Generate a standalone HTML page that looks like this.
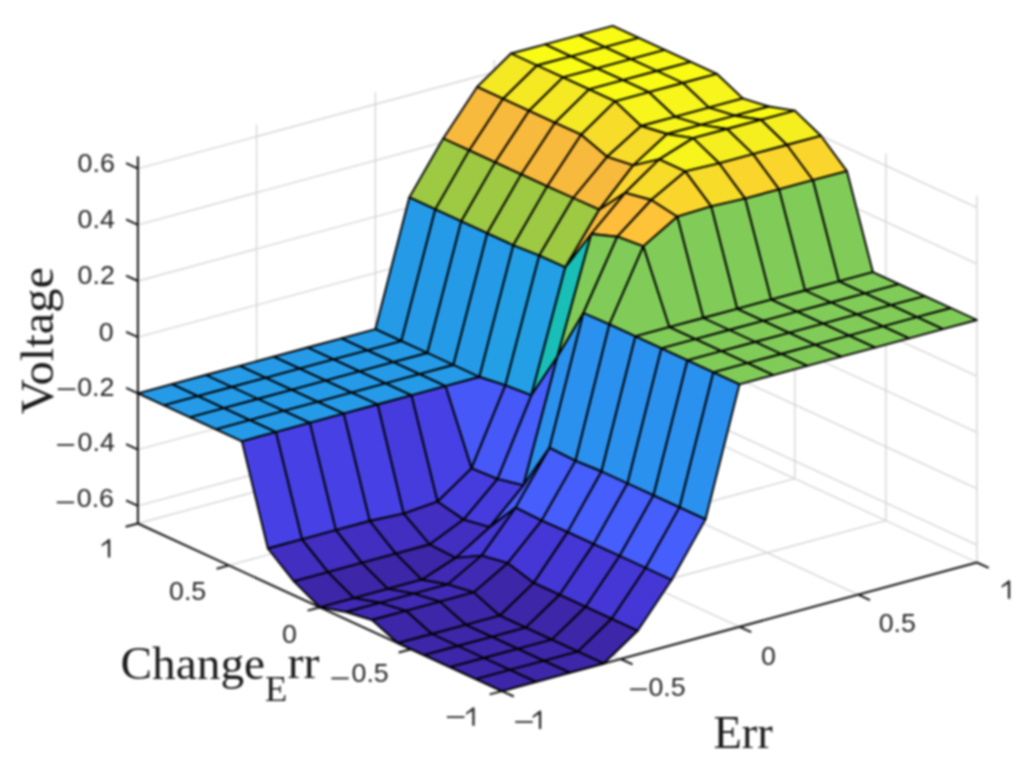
<!DOCTYPE html>
<html><head><meta charset="utf-8"><style>
html,body{margin:0;padding:0;background:#fff;width:1032px;height:768px;overflow:hidden}
.t{position:absolute;font-family:"Liberation Sans",sans-serif;color:#262626;white-space:nowrap;line-height:1}
.s{position:absolute;font-family:"Liberation Serif",serif;color:#262626;white-space:nowrap;line-height:1}
</style></head><body>
<svg width="1032" height="768" viewBox="0 0 1032 768" style="position:absolute;left:0;top:0;filter:blur(0.8px)">
<path d="M137.9 505.8L612.8 377.2M612.8 377.2L976.9 544.8M137.9 449.6L612.8 321.0M612.8 321.0L976.9 488.6M137.9 393.4L612.8 264.8M612.8 264.8L976.9 432.4M137.9 337.2L612.8 208.6M612.8 208.6L976.9 376.2M137.9 281.0L612.8 152.4M612.8 152.4L976.9 320.0M137.9 224.8L612.8 96.2M612.8 96.2L976.9 263.8M137.9 168.6L612.8 40.0M612.8 40.0L976.9 207.6M137.9 523.5L137.9 156.5M502.0 691.1L137.9 523.5M256.6 491.4L256.6 124.4M620.7 659.0L256.6 491.4M375.4 459.2L375.4 92.2M739.5 626.8L375.4 459.2M494.1 427.1L494.1 60.1M858.2 594.7L494.1 427.1M612.8 394.9L612.8 27.9M976.9 562.5L612.8 394.9M976.9 562.5L976.9 195.5M502.0 691.1L976.9 562.5M885.9 520.6L885.9 153.6M411.0 649.2L885.9 520.6M794.8 478.7L794.8 111.7M319.9 607.3L794.8 478.7M703.8 436.8L703.8 69.8M228.9 565.4L703.8 436.8M612.8 394.9L612.8 27.9M137.9 523.5L612.8 394.9" stroke="#d4d4d4" stroke-width="1.3" fill="none"/>
<path d="M502.0 691.1L976.9 562.5M502.0 691.1L137.9 523.5M137.9 523.5L137.9 156.5M502.0 691.1L513.8 696.5M502.0 691.1L489.7 694.4M620.7 659.0L632.6 664.4M411.0 649.2L398.6 652.5M739.5 626.8L751.3 632.2M319.9 607.3L307.6 610.6M858.2 594.7L870.0 600.1M228.9 565.4L216.6 568.7M976.9 562.5L988.7 567.9M137.9 523.5L125.6 526.8M137.9 505.8L126.1 500.3M137.9 449.6L126.1 444.1M137.9 393.4L126.1 387.9M137.9 337.2L126.1 331.8M137.9 281.0L126.1 275.6M137.9 224.8L126.1 219.3M137.9 168.6L126.1 163.2" stroke="#151515" stroke-width="2.0" fill="none"/>
<path d="M604.9 47.1L638.8 37.9L612.8 25.9L578.9 35.1Z" fill="#f9fb15" stroke="#000" stroke-width="1.9" stroke-linejoin="round"/>
<path d="M571.0 56.3L604.9 47.1L578.9 35.1L545.0 44.3Z" fill="#f9fb15" stroke="#000" stroke-width="1.9" stroke-linejoin="round"/>
<path d="M630.9 59.1L664.8 49.9L638.8 37.9L604.9 47.1Z" fill="#f9fb15" stroke="#000" stroke-width="1.9" stroke-linejoin="round"/>
<path d="M537.0 65.5L571.0 56.3L545.0 44.3L511.0 53.5Z" fill="#f9fb15" stroke="#000" stroke-width="1.9" stroke-linejoin="round"/>
<path d="M597.0 68.3L630.9 59.1L604.9 47.1L571.0 56.3Z" fill="#f9fb15" stroke="#000" stroke-width="1.9" stroke-linejoin="round"/>
<path d="M656.9 71.0L690.8 61.9L664.8 49.9L630.9 59.1Z" fill="#f9fb15" stroke="#000" stroke-width="1.9" stroke-linejoin="round"/>
<path d="M503.1 98.8L537.0 65.5L511.0 53.5L477.1 86.9Z" fill="#f5e924" stroke="#000" stroke-width="1.9" stroke-linejoin="round"/>
<path d="M563.0 77.4L597.0 68.3L571.0 56.3L537.0 65.5Z" fill="#f9fb15" stroke="#000" stroke-width="1.9" stroke-linejoin="round"/>
<path d="M623.0 80.2L656.9 71.0L630.9 59.1L597.0 68.3Z" fill="#f9fb15" stroke="#000" stroke-width="1.9" stroke-linejoin="round"/>
<path d="M682.9 83.0L716.8 73.8L690.8 61.9L656.9 71.0Z" fill="#f9fb15" stroke="#000" stroke-width="1.9" stroke-linejoin="round"/>
<path d="M469.2 150.4L503.1 98.8L477.1 86.9L443.2 138.5Z" fill="#f8ba3d" stroke="#000" stroke-width="1.9" stroke-linejoin="round"/>
<path d="M529.1 110.8L563.0 77.4L537.0 65.5L503.1 98.8Z" fill="#f5e924" stroke="#000" stroke-width="1.9" stroke-linejoin="round"/>
<path d="M589.1 89.4L623.0 80.2L597.0 68.3L563.0 77.4Z" fill="#f9fb15" stroke="#000" stroke-width="1.9" stroke-linejoin="round"/>
<path d="M649.0 92.2L682.9 83.0L656.9 71.0L623.0 80.2Z" fill="#f9fb15" stroke="#000" stroke-width="1.9" stroke-linejoin="round"/>
<path d="M435.3 209.4L469.2 150.4L443.2 138.5L409.3 197.4Z" fill="#9dc943" stroke="#000" stroke-width="1.9" stroke-linejoin="round"/>
<path d="M708.9 107.6L742.8 98.4L716.8 73.8L682.9 83.0Z" fill="#f7f51b" stroke="#000" stroke-width="1.9" stroke-linejoin="round"/>
<path d="M495.2 162.4L529.1 110.8L503.1 98.8L469.2 150.4Z" fill="#f8ba3d" stroke="#000" stroke-width="1.9" stroke-linejoin="round"/>
<path d="M555.1 122.8L589.1 89.4L563.0 77.4L529.1 110.8Z" fill="#f5e924" stroke="#000" stroke-width="1.9" stroke-linejoin="round"/>
<path d="M615.1 101.4L649.0 92.2L623.0 80.2L589.1 89.4Z" fill="#f9fb15" stroke="#000" stroke-width="1.9" stroke-linejoin="round"/>
<path d="M401.4 341.1L435.3 209.4L409.3 197.4L375.4 329.1Z" fill="#259be8" stroke="#000" stroke-width="1.9" stroke-linejoin="round"/>
<path d="M675.0 116.8L708.9 107.6L682.9 83.0L649.0 92.2Z" fill="#f7f51b" stroke="#000" stroke-width="1.9" stroke-linejoin="round"/>
<path d="M461.3 221.3L495.2 162.4L469.2 150.4L435.3 209.4Z" fill="#9dc943" stroke="#000" stroke-width="1.9" stroke-linejoin="round"/>
<path d="M734.9 115.7L768.8 106.5L742.8 98.4L708.9 107.6Z" fill="#f7f51b" stroke="#000" stroke-width="1.9" stroke-linejoin="round"/>
<path d="M521.2 174.4L555.1 122.8L529.1 110.8L495.2 162.4Z" fill="#f8ba3d" stroke="#000" stroke-width="1.9" stroke-linejoin="round"/>
<path d="M581.1 134.7L615.1 101.4L589.1 89.4L555.1 122.8Z" fill="#f5e924" stroke="#000" stroke-width="1.9" stroke-linejoin="round"/>
<path d="M367.4 350.3L401.4 341.1L375.4 329.1L341.4 338.3Z" fill="#259be8" stroke="#000" stroke-width="1.9" stroke-linejoin="round"/>
<path d="M641.1 126.0L675.0 116.8L649.0 92.2L615.1 101.4Z" fill="#f7f51b" stroke="#000" stroke-width="1.9" stroke-linejoin="round"/>
<path d="M427.4 353.0L461.3 221.3L435.3 209.4L401.4 341.1Z" fill="#259be8" stroke="#000" stroke-width="1.9" stroke-linejoin="round"/>
<path d="M701.0 124.9L734.9 115.7L708.9 107.6L675.0 116.8Z" fill="#f7f51b" stroke="#000" stroke-width="1.9" stroke-linejoin="round"/>
<path d="M487.3 233.3L521.2 174.4L495.2 162.4L461.3 221.3Z" fill="#9dc943" stroke="#000" stroke-width="1.9" stroke-linejoin="round"/>
<path d="M760.9 119.8L794.8 110.6L768.8 106.5L734.9 115.7Z" fill="#f9fb15" stroke="#000" stroke-width="1.9" stroke-linejoin="round"/>
<path d="M547.2 186.4L581.1 134.7L555.1 122.8L521.2 174.4Z" fill="#f8ba3d" stroke="#000" stroke-width="1.9" stroke-linejoin="round"/>
<path d="M333.5 359.4L367.4 350.3L341.4 338.3L307.5 347.5Z" fill="#259be8" stroke="#000" stroke-width="1.9" stroke-linejoin="round"/>
<path d="M607.1 156.8L641.1 126.0L615.1 101.4L581.1 134.7Z" fill="#f7dc2a" stroke="#000" stroke-width="1.9" stroke-linejoin="round"/>
<path d="M393.4 362.2L427.4 353.0L401.4 341.1L367.4 350.3Z" fill="#259be8" stroke="#000" stroke-width="1.9" stroke-linejoin="round"/>
<path d="M667.1 134.0L701.0 124.9L675.0 116.8L641.1 126.0Z" fill="#f7f51b" stroke="#000" stroke-width="1.9" stroke-linejoin="round"/>
<path d="M453.4 365.0L487.3 233.3L461.3 221.3L427.4 353.0Z" fill="#259be8" stroke="#000" stroke-width="1.9" stroke-linejoin="round"/>
<path d="M727.0 129.0L760.9 119.8L734.9 115.7L701.0 124.9Z" fill="#f9fb15" stroke="#000" stroke-width="1.9" stroke-linejoin="round"/>
<path d="M513.3 245.3L547.2 186.4L521.2 174.4L487.3 233.3Z" fill="#9dc943" stroke="#000" stroke-width="1.9" stroke-linejoin="round"/>
<path d="M299.6 368.6L333.5 359.4L307.5 347.5L273.6 356.7Z" fill="#259be8" stroke="#000" stroke-width="1.9" stroke-linejoin="round"/>
<path d="M786.9 145.0L820.9 135.8L794.8 110.6L760.9 119.8Z" fill="#f6ef20" stroke="#000" stroke-width="1.9" stroke-linejoin="round"/>
<path d="M573.2 198.0L607.1 156.8L581.1 134.7L547.2 186.4Z" fill="#f8ba3d" stroke="#000" stroke-width="1.9" stroke-linejoin="round"/>
<path d="M359.5 371.4L393.4 362.2L367.4 350.3L333.5 359.4Z" fill="#259be8" stroke="#000" stroke-width="1.9" stroke-linejoin="round"/>
<path d="M633.2 165.4L667.1 134.0L641.1 126.0L607.1 156.8Z" fill="#f7dc2a" stroke="#000" stroke-width="1.9" stroke-linejoin="round"/>
<path d="M419.5 374.2L453.4 365.0L427.4 353.0L393.4 362.2Z" fill="#259be8" stroke="#000" stroke-width="1.9" stroke-linejoin="round"/>
<path d="M693.1 138.1L727.0 129.0L701.0 124.9L667.1 134.0Z" fill="#f9fb15" stroke="#000" stroke-width="1.9" stroke-linejoin="round"/>
<path d="M479.4 377.0L513.3 245.3L487.3 233.3L453.4 365.0Z" fill="#259be8" stroke="#000" stroke-width="1.9" stroke-linejoin="round"/>
<path d="M265.7 377.8L299.6 368.6L273.6 356.7L239.7 365.8Z" fill="#259be8" stroke="#000" stroke-width="1.9" stroke-linejoin="round"/>
<path d="M753.0 154.1L786.9 145.0L760.9 119.8L727.0 129.0Z" fill="#f6ef20" stroke="#000" stroke-width="1.9" stroke-linejoin="round"/>
<path d="M539.3 255.6L573.2 198.0L547.2 186.4L513.3 245.3Z" fill="#9dc943" stroke="#000" stroke-width="1.9" stroke-linejoin="round"/>
<path d="M325.6 380.6L359.5 371.4L333.5 359.4L299.6 368.6Z" fill="#259be8" stroke="#000" stroke-width="1.9" stroke-linejoin="round"/>
<path d="M812.9 180.2L846.9 171.1L820.9 135.8L786.9 145.0Z" fill="#fad62d" stroke="#000" stroke-width="1.9" stroke-linejoin="round"/>
<path d="M599.2 209.7L633.2 165.4L607.1 156.8L573.2 198.0Z" fill="#f8ba3d" stroke="#000" stroke-width="1.9" stroke-linejoin="round"/>
<path d="M385.5 383.4L419.5 374.2L393.4 362.2L359.5 371.4Z" fill="#259be8" stroke="#000" stroke-width="1.9" stroke-linejoin="round"/>
<path d="M659.2 159.4L693.1 138.1L667.1 134.0L633.2 165.4Z" fill="#f7f51b" stroke="#000" stroke-width="1.9" stroke-linejoin="round"/>
<path d="M445.5 386.2L479.4 377.0L453.4 365.0L419.5 374.2Z" fill="#259be8" stroke="#000" stroke-width="1.9" stroke-linejoin="round"/>
<path d="M231.8 387.0L265.7 377.8L239.7 365.8L205.7 375.0Z" fill="#259be8" stroke="#000" stroke-width="1.9" stroke-linejoin="round"/>
<path d="M719.1 163.3L753.0 154.1L727.0 129.0L693.1 138.1Z" fill="#f6ef20" stroke="#000" stroke-width="1.9" stroke-linejoin="round"/>
<path d="M505.4 385.3L539.3 255.6L513.3 245.3L479.4 377.0Z" fill="#23a0e5" stroke="#000" stroke-width="1.9" stroke-linejoin="round"/>
<path d="M291.7 389.8L325.6 380.6L299.6 368.6L265.7 377.8Z" fill="#259be8" stroke="#000" stroke-width="1.9" stroke-linejoin="round"/>
<path d="M779.0 189.4L812.9 180.2L786.9 145.0L753.0 154.1Z" fill="#fad62d" stroke="#000" stroke-width="1.9" stroke-linejoin="round"/>
<path d="M565.3 267.3L599.2 209.7L573.2 198.0L539.3 255.6Z" fill="#9dc943" stroke="#000" stroke-width="1.9" stroke-linejoin="round"/>
<path d="M351.6 392.6L385.5 383.4L359.5 371.4L325.6 380.6Z" fill="#259be8" stroke="#000" stroke-width="1.9" stroke-linejoin="round"/>
<path d="M838.9 281.3L872.9 272.1L846.9 171.1L812.9 180.2Z" fill="#81cc59" stroke="#000" stroke-width="1.9" stroke-linejoin="round"/>
<path d="M625.2 192.8L659.2 159.4L633.2 165.4L599.2 209.7Z" fill="#fad62d" stroke="#000" stroke-width="1.9" stroke-linejoin="round"/>
<path d="M411.5 395.4L445.5 386.2L419.5 374.2L385.5 383.4Z" fill="#259be8" stroke="#000" stroke-width="1.9" stroke-linejoin="round"/>
<path d="M197.8 396.2L231.8 387.0L205.7 375.0L171.8 384.2Z" fill="#259be8" stroke="#000" stroke-width="1.9" stroke-linejoin="round"/>
<path d="M685.2 171.4L719.1 163.3L693.1 138.1L659.2 159.4Z" fill="#f7f51b" stroke="#000" stroke-width="1.9" stroke-linejoin="round"/>
<path d="M471.5 468.4L505.4 385.3L479.4 377.0L445.5 386.2Z" fill="#4758f8" stroke="#000" stroke-width="1.9" stroke-linejoin="round"/>
<path d="M257.8 399.0L291.7 389.8L265.7 377.8L231.8 387.0Z" fill="#259be8" stroke="#000" stroke-width="1.9" stroke-linejoin="round"/>
<path d="M745.1 198.6L779.0 189.4L753.0 154.1L719.1 163.3Z" fill="#fad62d" stroke="#000" stroke-width="1.9" stroke-linejoin="round"/>
<path d="M531.4 395.3L565.3 267.3L539.3 255.6L505.4 385.3Z" fill="#23a0e5" stroke="#000" stroke-width="1.9" stroke-linejoin="round"/>
<path d="M317.7 401.8L351.6 392.6L325.6 380.6L291.7 389.8Z" fill="#259be8" stroke="#000" stroke-width="1.9" stroke-linejoin="round"/>
<path d="M805.0 290.5L838.9 281.3L812.9 180.2L779.0 189.4Z" fill="#81cc59" stroke="#000" stroke-width="1.9" stroke-linejoin="round"/>
<path d="M591.3 234.0L625.2 192.8L599.2 209.7L565.3 267.3Z" fill="#f8ba3d" stroke="#000" stroke-width="1.9" stroke-linejoin="round"/>
<path d="M377.6 404.5L411.5 395.4L385.5 383.4L351.6 392.6Z" fill="#259be8" stroke="#000" stroke-width="1.9" stroke-linejoin="round"/>
<path d="M163.9 405.4L197.8 396.2L171.8 384.2L137.9 393.4Z" fill="#259be8" stroke="#000" stroke-width="1.9" stroke-linejoin="round"/>
<path d="M865.0 293.3L898.9 284.1L872.9 272.1L838.9 281.3Z" fill="#81cc59" stroke="#000" stroke-width="1.9" stroke-linejoin="round"/>
<path d="M651.2 200.0L685.2 171.4L659.2 159.4L625.2 192.8Z" fill="#f7dc2a" stroke="#000" stroke-width="1.9" stroke-linejoin="round"/>
<path d="M437.5 501.7L471.5 468.4L445.5 386.2L411.5 395.4Z" fill="#4741e5" stroke="#000" stroke-width="1.9" stroke-linejoin="round"/>
<path d="M223.8 408.2L257.8 399.0L231.8 387.0L197.8 396.2Z" fill="#259be8" stroke="#000" stroke-width="1.9" stroke-linejoin="round"/>
<path d="M711.2 206.4L745.1 198.6L719.1 163.3L685.2 171.4Z" fill="#f7dc2a" stroke="#000" stroke-width="1.9" stroke-linejoin="round"/>
<path d="M497.5 479.2L531.4 395.3L505.4 385.3L471.5 468.4Z" fill="#4758f8" stroke="#000" stroke-width="1.9" stroke-linejoin="round"/>
<path d="M283.8 410.9L317.7 401.8L291.7 389.8L257.8 399.0Z" fill="#259be8" stroke="#000" stroke-width="1.9" stroke-linejoin="round"/>
<path d="M771.1 299.7L805.0 290.5L779.0 189.4L745.1 198.6Z" fill="#81cc59" stroke="#000" stroke-width="1.9" stroke-linejoin="round"/>
<path d="M557.4 356.7L591.3 234.0L565.3 267.3L531.4 395.3Z" fill="#19bfb6" stroke="#000" stroke-width="1.9" stroke-linejoin="round"/>
<path d="M343.7 413.7L377.6 404.5L351.6 392.6L317.7 401.8Z" fill="#259be8" stroke="#000" stroke-width="1.9" stroke-linejoin="round"/>
<path d="M831.0 302.5L865.0 293.3L838.9 281.3L805.0 290.5Z" fill="#81cc59" stroke="#000" stroke-width="1.9" stroke-linejoin="round"/>
<path d="M617.3 236.7L651.2 200.0L625.2 192.8L591.3 234.0Z" fill="#febe3c" stroke="#000" stroke-width="1.9" stroke-linejoin="round"/>
<path d="M403.6 513.6L437.5 501.7L411.5 395.4L377.6 404.5Z" fill="#463cde" stroke="#000" stroke-width="1.9" stroke-linejoin="round"/>
<path d="M189.9 417.3L223.8 408.2L197.8 396.2L163.9 405.4Z" fill="#259be8" stroke="#000" stroke-width="1.9" stroke-linejoin="round"/>
<path d="M891.0 305.2L924.9 296.1L898.9 284.1L865.0 293.3Z" fill="#81cc59" stroke="#000" stroke-width="1.9" stroke-linejoin="round"/>
<path d="M677.3 216.7L711.2 206.4L685.2 171.4L651.2 200.0Z" fill="#fad62d" stroke="#000" stroke-width="1.9" stroke-linejoin="round"/>
<path d="M463.6 519.6L497.5 479.2L471.5 468.4L437.5 501.7Z" fill="#463cde" stroke="#000" stroke-width="1.9" stroke-linejoin="round"/>
<path d="M249.8 420.1L283.8 410.9L257.8 399.0L223.8 408.2Z" fill="#259be8" stroke="#000" stroke-width="1.9" stroke-linejoin="round"/>
<path d="M737.2 308.9L771.1 299.7L745.1 198.6L711.2 206.4Z" fill="#81cc59" stroke="#000" stroke-width="1.9" stroke-linejoin="round"/>
<path d="M523.5 485.3L557.4 356.7L531.4 395.3L497.5 479.2Z" fill="#465efb" stroke="#000" stroke-width="1.9" stroke-linejoin="round"/>
<path d="M309.8 422.9L343.7 413.7L317.7 401.8L283.8 410.9Z" fill="#259be8" stroke="#000" stroke-width="1.9" stroke-linejoin="round"/>
<path d="M797.1 311.6L831.0 302.5L805.0 290.5L771.1 299.7Z" fill="#81cc59" stroke="#000" stroke-width="1.9" stroke-linejoin="round"/>
<path d="M583.4 313.0L617.3 236.7L591.3 234.0L557.4 356.7Z" fill="#81cc59" stroke="#000" stroke-width="1.9" stroke-linejoin="round"/>
<path d="M369.7 521.0L403.6 513.6L377.6 404.5L343.7 413.7Z" fill="#4741e5" stroke="#000" stroke-width="1.9" stroke-linejoin="round"/>
<path d="M857.0 314.4L891.0 305.2L865.0 293.3L831.0 302.5Z" fill="#81cc59" stroke="#000" stroke-width="1.9" stroke-linejoin="round"/>
<path d="M643.3 246.4L677.3 216.7L651.2 200.0L617.3 236.7Z" fill="#fec338" stroke="#000" stroke-width="1.9" stroke-linejoin="round"/>
<path d="M429.6 544.5L463.6 519.6L437.5 501.7L403.6 513.6Z" fill="#422ec0" stroke="#000" stroke-width="1.9" stroke-linejoin="round"/>
<path d="M215.9 429.3L249.8 420.1L223.8 408.2L189.9 417.3Z" fill="#259be8" stroke="#000" stroke-width="1.9" stroke-linejoin="round"/>
<path d="M917.0 317.2L950.9 308.0L924.9 296.1L891.0 305.2Z" fill="#81cc59" stroke="#000" stroke-width="1.9" stroke-linejoin="round"/>
<path d="M703.3 318.0L737.2 308.9L711.2 206.4L677.3 216.7Z" fill="#81cc59" stroke="#000" stroke-width="1.9" stroke-linejoin="round"/>
<path d="M489.6 527.2L523.5 485.3L497.5 479.2L463.6 519.6Z" fill="#463cde" stroke="#000" stroke-width="1.9" stroke-linejoin="round"/>
<path d="M275.9 432.1L309.8 422.9L283.8 410.9L249.8 420.1Z" fill="#259be8" stroke="#000" stroke-width="1.9" stroke-linejoin="round"/>
<path d="M763.2 320.8L797.1 311.6L771.1 299.7L737.2 308.9Z" fill="#81cc59" stroke="#000" stroke-width="1.9" stroke-linejoin="round"/>
<path d="M549.5 447.8L583.4 313.0L557.4 356.7L523.5 485.3Z" fill="#2b91ef" stroke="#000" stroke-width="1.9" stroke-linejoin="round"/>
<path d="M335.8 530.1L369.7 521.0L343.7 413.7L309.8 422.9Z" fill="#4741e5" stroke="#000" stroke-width="1.9" stroke-linejoin="round"/>
<path d="M823.1 323.6L857.0 314.4L831.0 302.5L797.1 311.6Z" fill="#81cc59" stroke="#000" stroke-width="1.9" stroke-linejoin="round"/>
<path d="M609.4 324.4L643.3 246.4L617.3 236.7L583.4 313.0Z" fill="#81cc59" stroke="#000" stroke-width="1.9" stroke-linejoin="round"/>
<path d="M395.7 553.7L429.6 544.5L403.6 513.6L369.7 521.0Z" fill="#422ec0" stroke="#000" stroke-width="1.9" stroke-linejoin="round"/>
<path d="M883.0 326.4L917.0 317.2L891.0 305.2L857.0 314.4Z" fill="#81cc59" stroke="#000" stroke-width="1.9" stroke-linejoin="round"/>
<path d="M669.3 327.2L703.3 318.0L677.3 216.7L643.3 246.4Z" fill="#81cc59" stroke="#000" stroke-width="1.9" stroke-linejoin="round"/>
<path d="M455.6 557.9L489.6 527.2L463.6 519.6L429.6 544.5Z" fill="#422ec0" stroke="#000" stroke-width="1.9" stroke-linejoin="round"/>
<path d="M241.9 441.3L275.9 432.1L249.8 420.1L215.9 429.3Z" fill="#259be8" stroke="#000" stroke-width="1.9" stroke-linejoin="round"/>
<path d="M943.0 329.2L976.9 320.0L950.9 308.0L917.0 317.2Z" fill="#81cc59" stroke="#000" stroke-width="1.9" stroke-linejoin="round"/>
<path d="M729.3 330.0L763.2 320.8L737.2 308.9L703.3 318.0Z" fill="#81cc59" stroke="#000" stroke-width="1.9" stroke-linejoin="round"/>
<path d="M515.6 507.6L549.5 447.8L523.5 485.3L489.6 527.2Z" fill="#465efb" stroke="#000" stroke-width="1.9" stroke-linejoin="round"/>
<path d="M301.9 539.3L335.8 530.1L309.8 422.9L275.9 432.1Z" fill="#4741e5" stroke="#000" stroke-width="1.9" stroke-linejoin="round"/>
<path d="M789.2 332.8L823.1 323.6L797.1 311.6L763.2 320.8Z" fill="#81cc59" stroke="#000" stroke-width="1.9" stroke-linejoin="round"/>
<path d="M575.5 460.9L609.4 324.4L583.4 313.0L549.5 447.8Z" fill="#2b91ef" stroke="#000" stroke-width="1.9" stroke-linejoin="round"/>
<path d="M361.8 562.9L395.7 553.7L369.7 521.0L335.8 530.1Z" fill="#422ec0" stroke="#000" stroke-width="1.9" stroke-linejoin="round"/>
<path d="M849.1 335.6L883.0 326.4L857.0 314.4L823.1 323.6Z" fill="#81cc59" stroke="#000" stroke-width="1.9" stroke-linejoin="round"/>
<path d="M635.4 336.4L669.3 327.2L643.3 246.4L609.4 324.4Z" fill="#81cc59" stroke="#000" stroke-width="1.9" stroke-linejoin="round"/>
<path d="M421.7 579.7L455.6 557.9L429.6 544.5L395.7 553.7Z" fill="#3e26a8" stroke="#000" stroke-width="1.9" stroke-linejoin="round"/>
<path d="M909.1 338.4L943.0 329.2L917.0 317.2L883.0 326.4Z" fill="#81cc59" stroke="#000" stroke-width="1.9" stroke-linejoin="round"/>
<path d="M695.4 339.2L729.3 330.0L703.3 318.0L669.3 327.2Z" fill="#81cc59" stroke="#000" stroke-width="1.9" stroke-linejoin="round"/>
<path d="M481.6 555.6L515.6 507.6L489.6 527.2L455.6 557.9Z" fill="#4537d5" stroke="#000" stroke-width="1.9" stroke-linejoin="round"/>
<path d="M267.9 548.5L301.9 539.3L275.9 432.1L241.9 441.3Z" fill="#4741e5" stroke="#000" stroke-width="1.9" stroke-linejoin="round"/>
<path d="M755.3 342.0L789.2 332.8L763.2 320.8L729.3 330.0Z" fill="#81cc59" stroke="#000" stroke-width="1.9" stroke-linejoin="round"/>
<path d="M541.6 520.6L575.5 460.9L549.5 447.8L515.6 507.6Z" fill="#465efb" stroke="#000" stroke-width="1.9" stroke-linejoin="round"/>
<path d="M327.9 572.1L361.8 562.9L335.8 530.1L301.9 539.3Z" fill="#422ec0" stroke="#000" stroke-width="1.9" stroke-linejoin="round"/>
<path d="M815.2 344.8L849.1 335.6L823.1 323.6L789.2 332.8Z" fill="#81cc59" stroke="#000" stroke-width="1.9" stroke-linejoin="round"/>
<path d="M601.5 471.5L635.4 336.4L609.4 324.4L575.5 460.9Z" fill="#2b91ef" stroke="#000" stroke-width="1.9" stroke-linejoin="round"/>
<path d="M387.8 588.9L421.7 579.7L395.7 553.7L361.8 562.9Z" fill="#3e26a8" stroke="#000" stroke-width="1.9" stroke-linejoin="round"/>
<path d="M875.1 347.6L909.1 338.4L883.0 326.4L849.1 335.6Z" fill="#81cc59" stroke="#000" stroke-width="1.9" stroke-linejoin="round"/>
<path d="M661.4 348.4L695.4 339.2L669.3 327.2L635.4 336.4Z" fill="#81cc59" stroke="#000" stroke-width="1.9" stroke-linejoin="round"/>
<path d="M447.7 584.4L481.6 555.6L455.6 557.9L421.7 579.7Z" fill="#402ab4" stroke="#000" stroke-width="1.9" stroke-linejoin="round"/>
<path d="M721.4 351.2L755.3 342.0L729.3 330.0L695.4 339.2Z" fill="#81cc59" stroke="#000" stroke-width="1.9" stroke-linejoin="round"/>
<path d="M507.7 563.2L541.6 520.6L515.6 507.6L481.6 555.6Z" fill="#463cde" stroke="#000" stroke-width="1.9" stroke-linejoin="round"/>
<path d="M293.9 581.3L327.9 572.1L301.9 539.3L267.9 548.5Z" fill="#422ec0" stroke="#000" stroke-width="1.9" stroke-linejoin="round"/>
<path d="M781.3 354.0L815.2 344.8L789.2 332.8L755.3 342.0Z" fill="#81cc59" stroke="#000" stroke-width="1.9" stroke-linejoin="round"/>
<path d="M567.6 532.1L601.5 471.5L575.5 460.9L541.6 520.6Z" fill="#465efb" stroke="#000" stroke-width="1.9" stroke-linejoin="round"/>
<path d="M353.9 598.1L387.8 588.9L361.8 562.9L327.9 572.1Z" fill="#3e26a8" stroke="#000" stroke-width="1.9" stroke-linejoin="round"/>
<path d="M841.2 356.7L875.1 347.6L849.1 335.6L815.2 344.8Z" fill="#81cc59" stroke="#000" stroke-width="1.9" stroke-linejoin="round"/>
<path d="M627.5 483.5L661.4 348.4L635.4 336.4L601.5 471.5Z" fill="#2b91ef" stroke="#000" stroke-width="1.9" stroke-linejoin="round"/>
<path d="M413.8 593.6L447.7 584.4L421.7 579.7L387.8 588.9Z" fill="#402ab4" stroke="#000" stroke-width="1.9" stroke-linejoin="round"/>
<path d="M687.4 360.4L721.4 351.2L695.4 339.2L661.4 348.4Z" fill="#81cc59" stroke="#000" stroke-width="1.9" stroke-linejoin="round"/>
<path d="M473.7 592.4L507.7 563.2L481.6 555.6L447.7 584.4Z" fill="#402ab4" stroke="#000" stroke-width="1.9" stroke-linejoin="round"/>
<path d="M747.4 363.1L781.3 354.0L755.3 342.0L721.4 351.2Z" fill="#81cc59" stroke="#000" stroke-width="1.9" stroke-linejoin="round"/>
<path d="M533.7 582.9L567.6 532.1L541.6 520.6L507.7 563.2Z" fill="#4537d5" stroke="#000" stroke-width="1.9" stroke-linejoin="round"/>
<path d="M319.9 607.3L353.9 598.1L327.9 572.1L293.9 581.3Z" fill="#3e26a8" stroke="#000" stroke-width="1.9" stroke-linejoin="round"/>
<path d="M807.3 365.9L841.2 356.7L815.2 344.8L781.3 354.0Z" fill="#81cc59" stroke="#000" stroke-width="1.9" stroke-linejoin="round"/>
<path d="M593.6 544.1L627.5 483.5L601.5 471.5L567.6 532.1Z" fill="#465efb" stroke="#000" stroke-width="1.9" stroke-linejoin="round"/>
<path d="M379.9 602.8L413.8 593.6L387.8 588.9L353.9 598.1Z" fill="#402ab4" stroke="#000" stroke-width="1.9" stroke-linejoin="round"/>
<path d="M653.5 495.4L687.4 360.4L661.4 348.4L627.5 483.5Z" fill="#2b91ef" stroke="#000" stroke-width="1.9" stroke-linejoin="round"/>
<path d="M439.8 601.6L473.7 592.4L447.7 584.4L413.8 593.6Z" fill="#402ab4" stroke="#000" stroke-width="1.9" stroke-linejoin="round"/>
<path d="M713.4 372.3L747.4 363.1L721.4 351.2L687.4 360.4Z" fill="#81cc59" stroke="#000" stroke-width="1.9" stroke-linejoin="round"/>
<path d="M499.7 615.7L533.7 582.9L507.7 563.2L473.7 592.4Z" fill="#3e26a8" stroke="#000" stroke-width="1.9" stroke-linejoin="round"/>
<path d="M773.4 375.1L807.3 365.9L781.3 354.0L747.4 363.1Z" fill="#81cc59" stroke="#000" stroke-width="1.9" stroke-linejoin="round"/>
<path d="M559.7 594.8L593.6 544.1L567.6 532.1L533.7 582.9Z" fill="#4537d5" stroke="#000" stroke-width="1.9" stroke-linejoin="round"/>
<path d="M346.0 612.0L379.9 602.8L353.9 598.1L319.9 607.3Z" fill="#402ab4" stroke="#000" stroke-width="1.9" stroke-linejoin="round"/>
<path d="M619.6 556.0L653.5 495.4L627.5 483.5L593.6 544.1Z" fill="#465efb" stroke="#000" stroke-width="1.9" stroke-linejoin="round"/>
<path d="M405.9 610.8L439.8 601.6L413.8 593.6L379.9 602.8Z" fill="#402ab4" stroke="#000" stroke-width="1.9" stroke-linejoin="round"/>
<path d="M679.5 507.4L713.4 372.3L687.4 360.4L653.5 495.4Z" fill="#2b91ef" stroke="#000" stroke-width="1.9" stroke-linejoin="round"/>
<path d="M465.8 624.8L499.7 615.7L473.7 592.4L439.8 601.6Z" fill="#3e26a8" stroke="#000" stroke-width="1.9" stroke-linejoin="round"/>
<path d="M739.5 384.3L773.4 375.1L747.4 363.1L713.4 372.3Z" fill="#81cc59" stroke="#000" stroke-width="1.9" stroke-linejoin="round"/>
<path d="M525.7 627.6L559.7 594.8L533.7 582.9L499.7 615.7Z" fill="#3e26a8" stroke="#000" stroke-width="1.9" stroke-linejoin="round"/>
<path d="M585.7 606.8L619.6 556.0L593.6 544.1L559.7 594.8Z" fill="#4537d5" stroke="#000" stroke-width="1.9" stroke-linejoin="round"/>
<path d="M372.0 620.0L405.9 610.8L379.9 602.8L346.0 612.0Z" fill="#402ab4" stroke="#000" stroke-width="1.9" stroke-linejoin="round"/>
<path d="M645.6 568.0L679.5 507.4L653.5 495.4L619.6 556.0Z" fill="#465efb" stroke="#000" stroke-width="1.9" stroke-linejoin="round"/>
<path d="M431.9 634.0L465.8 624.8L439.8 601.6L405.9 610.8Z" fill="#3e26a8" stroke="#000" stroke-width="1.9" stroke-linejoin="round"/>
<path d="M705.5 519.4L739.5 384.3L713.4 372.3L679.5 507.4Z" fill="#2b91ef" stroke="#000" stroke-width="1.9" stroke-linejoin="round"/>
<path d="M491.8 636.8L525.7 627.6L499.7 615.7L465.8 624.8Z" fill="#3e26a8" stroke="#000" stroke-width="1.9" stroke-linejoin="round"/>
<path d="M551.8 639.6L585.7 606.8L559.7 594.8L525.7 627.6Z" fill="#3e26a8" stroke="#000" stroke-width="1.9" stroke-linejoin="round"/>
<path d="M611.7 618.8L645.6 568.0L619.6 556.0L585.7 606.8Z" fill="#4537d5" stroke="#000" stroke-width="1.9" stroke-linejoin="round"/>
<path d="M398.0 643.2L431.9 634.0L405.9 610.8L372.0 620.0Z" fill="#3e26a8" stroke="#000" stroke-width="1.9" stroke-linejoin="round"/>
<path d="M671.6 580.0L705.5 519.4L679.5 507.4L645.6 568.0Z" fill="#465efb" stroke="#000" stroke-width="1.9" stroke-linejoin="round"/>
<path d="M457.9 646.0L491.8 636.8L465.8 624.8L431.9 634.0Z" fill="#3e26a8" stroke="#000" stroke-width="1.9" stroke-linejoin="round"/>
<path d="M517.8 648.8L551.8 639.6L525.7 627.6L491.8 636.8Z" fill="#3e26a8" stroke="#000" stroke-width="1.9" stroke-linejoin="round"/>
<path d="M577.8 651.6L611.7 618.8L585.7 606.8L551.8 639.6Z" fill="#3e26a8" stroke="#000" stroke-width="1.9" stroke-linejoin="round"/>
<path d="M637.7 630.8L671.6 580.0L645.6 568.0L611.7 618.8Z" fill="#4537d5" stroke="#000" stroke-width="1.9" stroke-linejoin="round"/>
<path d="M424.0 655.2L457.9 646.0L431.9 634.0L398.0 643.2Z" fill="#3e26a8" stroke="#000" stroke-width="1.9" stroke-linejoin="round"/>
<path d="M483.9 658.0L517.8 648.8L491.8 636.8L457.9 646.0Z" fill="#3e26a8" stroke="#000" stroke-width="1.9" stroke-linejoin="round"/>
<path d="M543.8 660.8L577.8 651.6L551.8 639.6L517.8 648.8Z" fill="#3e26a8" stroke="#000" stroke-width="1.9" stroke-linejoin="round"/>
<path d="M603.8 663.5L637.7 630.8L611.7 618.8L577.8 651.6Z" fill="#3e26a8" stroke="#000" stroke-width="1.9" stroke-linejoin="round"/>
<path d="M450.0 667.2L483.9 658.0L457.9 646.0L424.0 655.2Z" fill="#3e26a8" stroke="#000" stroke-width="1.9" stroke-linejoin="round"/>
<path d="M509.9 669.9L543.8 660.8L517.8 648.8L483.9 658.0Z" fill="#3e26a8" stroke="#000" stroke-width="1.9" stroke-linejoin="round"/>
<path d="M569.8 672.7L603.8 663.5L577.8 651.6L543.8 660.8Z" fill="#3e26a8" stroke="#000" stroke-width="1.9" stroke-linejoin="round"/>
<path d="M476.0 679.1L509.9 669.9L483.9 658.0L450.0 667.2Z" fill="#3e26a8" stroke="#000" stroke-width="1.9" stroke-linejoin="round"/>
<path d="M535.9 681.9L569.8 672.7L543.8 660.8L509.9 669.9Z" fill="#3e26a8" stroke="#000" stroke-width="1.9" stroke-linejoin="round"/>
<path d="M502.0 691.1L535.9 681.9L509.9 669.9L476.0 679.1Z" fill="#3e26a8" stroke="#000" stroke-width="1.9" stroke-linejoin="round"/>
<text transform="translate(77.6,171.9) scale(1.03,1)" font-family="Liberation Sans" font-size="26" fill="#262626">0.6</text>
<text transform="translate(77.6,228.2) scale(1.03,1)" font-family="Liberation Sans" font-size="26" fill="#262626">0.4</text>
<text transform="translate(77.6,284.2) scale(1.03,1)" font-family="Liberation Sans" font-size="26" fill="#262626">0.2</text>
<text transform="translate(98.8,340.6) scale(1.03,1)" font-family="Liberation Sans" font-size="26" fill="#262626">0</text>
<text transform="translate(77.2,396.0) scale(1.03,1)" font-family="Liberation Sans" font-size="26" fill="#262626">0.2</text>
<rect x="57.8" y="388.3" width="17.6" height="1.8" fill="#262626"/>
<text transform="translate(77.6,451.2) scale(1.03,1)" font-family="Liberation Sans" font-size="26" fill="#262626">0.4</text>
<rect x="57.2" y="444.0" width="16.9" height="1.8" fill="#262626"/>
<text transform="translate(76.8,506.8) scale(1.03,1)" font-family="Liberation Sans" font-size="26" fill="#262626">0.6</text>
<rect x="56.8" y="501.5" width="17.3" height="1.8" fill="#262626"/>
<path d="M107.9 539.2h2.3v18.3h-2.3z" fill="#262626"/><path d="M108.5 539.2L101.7 544.4L101.7 546.4L108.5 542.2z" fill="#262626"/>
<text transform="translate(169.0,599.8) scale(1.03,1)" font-family="Liberation Sans" font-size="26" fill="#262626">0.5</text>
<text transform="translate(282.0,642.5) scale(1.03,1)" font-family="Liberation Sans" font-size="26" fill="#262626">0</text>
<text transform="translate(351.5,681.8) scale(1.03,1)" font-family="Liberation Sans" font-size="26" fill="#262626">0.5</text>
<rect x="331.4" y="677.5" width="17.3" height="1.8" fill="#262626"/>
<path d="M472.3 707.5h2.3v18.3h-2.3z" fill="#262626"/><path d="M472.9 707.5L466.1 712.7L466.1 714.7L472.9 710.5z" fill="#262626"/>
<rect x="446.9" y="716.2" width="17.6" height="1.8" fill="#262626"/>
<path d="M538.9 710.7h2.3v18.3h-2.3z" fill="#262626"/><path d="M539.5 710.7L532.7 715.9L532.7 717.9L539.5 713.7z" fill="#262626"/>
<rect x="515.2" y="721.0" width="17.5" height="1.8" fill="#262626"/>
<text transform="translate(648.4,695.5) scale(1.03,1)" font-family="Liberation Sans" font-size="26" fill="#262626">0.5</text>
<rect x="630.1" y="688.4" width="16.9" height="1.8" fill="#262626"/>
<text transform="translate(760.9,664.5) scale(1.03,1)" font-family="Liberation Sans" font-size="26" fill="#262626">0</text>
<text transform="translate(878.7,632.3) scale(1.03,1)" font-family="Liberation Sans" font-size="26" fill="#262626">0.5</text>
<path d="M1007.9 580.5h2.3v18.3h-2.3z" fill="#262626"/><path d="M1008.5 580.5L1001.7 585.7L1001.7 587.7L1008.5 583.5z" fill="#262626"/>
<text transform="translate(120.4,679.1) scale(1.03,1)" font-family="Liberation Serif" font-size="46" fill="#1a1a1a">Change</text>
<text transform="translate(264.9,700.7) scale(1.0,1)" font-family="Liberation Serif" font-size="36.5" fill="#1a1a1a">E</text>
<text transform="translate(287.6,677.5) scale(1.04,1)" font-family="Liberation Serif" font-size="46" fill="#1a1a1a">rr</text>
<text transform="translate(713.5,748.0) scale(1.01,1)" font-family="Liberation Serif" font-size="46" fill="#1a1a1a">Err</text>
<text transform="translate(52.5,414.2) rotate(-90) scale(1.055,1)" font-family="Liberation Serif" font-size="46" fill="#1a1a1a">Voltage</text>
</svg>

</body></html>
